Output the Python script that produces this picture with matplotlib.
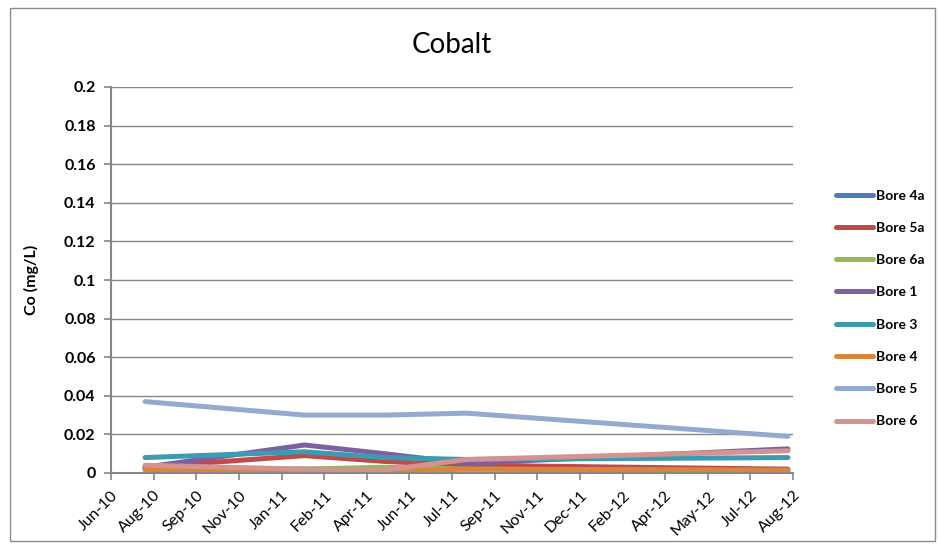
import datetime as dt
import matplotlib
matplotlib.use("Agg")
import matplotlib.pyplot as plt
import matplotlib.dates as mdates
import pandas as pd
from matplotlib.patches import Rectangle

plt.rcParams['font.family'] = ['Lato', 'DejaVu Sans']

# sampling dates and cobalt results (mg/L) per bore
dates = [dt.date(2010, 7, 31), dt.date(2011, 2, 3), dt.date(2011, 5, 8),
         dt.date(2011, 8, 12), dt.date(2012, 8, 23)]
bore_4a = [0.002, 0.002, 0.002, 0.004, 0.001]
bore_5a = [0.003, 0.009, 0.006, 0.004, 0.002]
bore_6a = [0.002, 0.002, 0.003, 0.002, 0.001]
bore_1 = [0.003, 0.0145, 0.010, 0.005, 0.0125]
bore_3 = [0.008, 0.011, 0.008, 0.007, 0.008]
bore_4 = [0.0015, 0.001, 0.001, 0.002, 0.0015]
bore_5 = [0.037, 0.030, 0.030, 0.031, 0.019]
bore_6 = [0.004, 0.002, 0.0015, 0.007, 0.0115]

series = [("Bore 4a", bore_4a, "#4A7EBB"),
          ("Bore 5a", bore_5a, "#BE4B48"),
          ("Bore 6a", bore_6a, "#98B954"),
          ("Bore 1", bore_1, "#7D60A0"),
          ("Bore 3", bore_3, "#3D9AB0"),
          ("Bore 4", bore_4, "#DD843B"),
          ("Bore 5", bore_5, "#93A9CF"),
          ("Bore 6", bore_6, "#D39391")]

fig = plt.figure(figsize=(9.38, 5.44), dpi=100)
ax = fig.add_axes([111 / 938, 1 - 473 / 544, (793 - 111) / 938, (473 - 87) / 544])

# chart border
fig.patches.append(Rectangle((10 / 938, 3 / 544), 925 / 938, 533 / 544,
                             transform=fig.transFigure, fill=False,
                             edgecolor="#8C8C8C", linewidth=1))

for name, vals, col in series:
    ax.plot(dates, vals, color=col, lw=3.6, label=name, solid_capstyle='round',
            solid_joinstyle='round')

ax.set_ylim(0, 0.2)
ax.set_yticks([i * 0.02 for i in range(11)])
ax.set_yticklabels(["0"] + ["%g" % (i * 0.02) for i in range(1, 11)],
                   fontsize=11.5, fontweight='bold')
ax.yaxis.grid(True, color="#868686", lw=1)
ax.set_axisbelow(True)

# date axis: 50 day steps
start = pd.Timestamp(2010, 6, 21)
end = pd.Timestamp(2012, 8, 29)
ax.set_xlim(start, end)
ax.set_xticks(pd.date_range(start, end, freq='50D'))
ax.xaxis.set_major_formatter(mdates.DateFormatter('%b-%y'))
for lbl in ax.get_xticklabels():
    lbl.set_rotation(45)
    lbl.set_ha('right')
    lbl.set_rotation_mode('anchor')
    lbl.set_fontsize(11.5)

for s in ['top', 'right']:
    ax.spines[s].set_visible(False)
for s in ['left', 'bottom']:
    ax.spines[s].set_color("#868686")
    ax.spines[s].set_linewidth(1.5)
ax.tick_params(axis='both', color="#868686", width=1.2, length=5)
ax.tick_params(axis='x', pad=6)
ax.tick_params(axis='y', pad=6)

ax.set_ylabel("Co (mg/L)", fontsize=11.5, fontweight='bold', labelpad=18)
fig.text(452 / 938, 1 - 45 / 544, "Cobalt", fontsize=20, ha='center', va='center')

leg = fig.legend(loc='upper left', bbox_to_anchor=(823 / 938, 1 - 177 / 544),
                 frameon=False, handlelength=2.7, handletextpad=0.2,
                 labelspacing=1.46, prop={'size': 10, 'weight': 'bold'})

fig.savefig("out.png", dpi=100)
